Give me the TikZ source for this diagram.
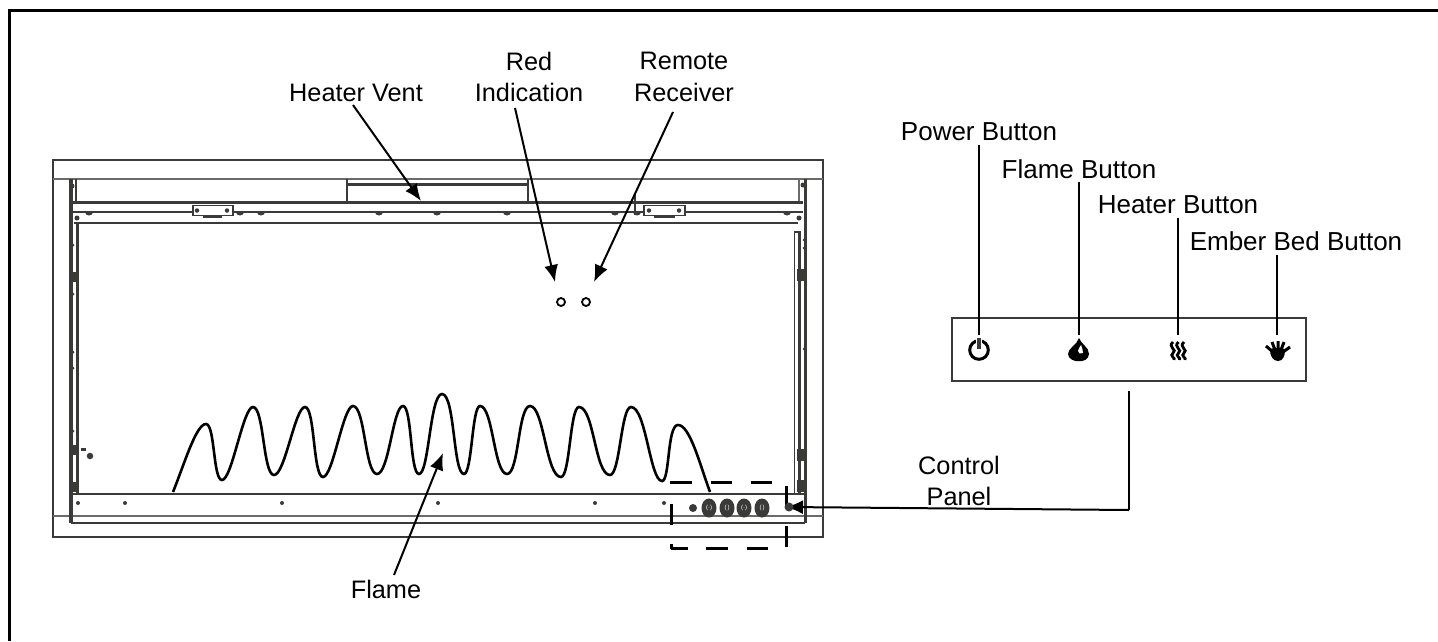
\documentclass[tikz,border=0pt]{standalone}
\usepackage{fontspec}
\setmainfont{Liberation Sans}
\usepackage{tikz}
\tikzset{>=latex}
\usetikzlibrary{positioning,arrows.meta,shapes.geometric}
\definecolor{drawgray}{HTML}{3A3A38}
\tikzset{
  lbl/.style={font=\fontsize{25.3}{31.5}\selectfont,align=center,inner sep=0pt},
  btn/.style={lbl,font=\fontsize{26}{31.5}\selectfont},
  part/.style={drawgray,line width=2.2pt},
  thin part/.style={drawgray!75,line width=1.6pt},
  heavy part/.style={drawgray,line width=3.6pt},
  callout/.style={black,line width=2pt,-{Latex[length=17pt,width=14pt]}},
  feed/.style={black,line width=2pt},
  knob/.style={fill=drawgray,draw=none,ellipse,minimum width=15pt,minimum height=19pt,inner sep=0pt},
  pin/.style={fill=drawgray,draw=none,circle,minimum size=4pt,inner sep=0pt},
  hole/.style={draw=black,circle,line width=1.8pt,minimum size=8pt,inner sep=0pt},
  cut/.style={black,line width=3pt}
}
\begin{document}
\begin{tikzpicture}[x=1pt,y=-1pt]
  \useasboundingbox (0,0) rectangle (1438,641);
  % page frame
  \draw[black,line width=3pt] (9.5,641) -- (9.5,10.5) -- (1438,10.5);
  % heater body
  \draw[part] (53,160) rectangle (823,537);
  \draw[thin part] (53,179) -- (823,179);
  \draw[thin part] (53,516) -- (823,516);
  \draw[part] (71,494) -- (805,494);
  \draw[part] (71,523) -- (805,523);
  \draw[heavy part] (71,179) -- (71,523);
  \draw[part,line width=3pt] (77,223) -- (77,494);
  \draw[part] (76,179) -- (76,202);
  \draw[thin part] (799,179) -- (799,202);
  \draw[heavy part] (805.5,179) -- (805.5,523);
  \draw[part,line width=1.8pt] (794.5,494) -- (794.5,232) -- (801,232);
  \draw[part,line width=3pt] (799,232) -- (799,494);
  \draw[part] (71,202.5) -- (803,202.5);
  \draw[part] (73,212) -- (803,212);
  \draw[part] (74,223) -- (798,223);
  % blobs on the side rails
  \foreach \by in {277,450,487}
    \fill[drawgray] (69,\by-5) rectangle (78,\by+5);
  \foreach \by in {275,455,486}
    \fill[drawgray] (797,\by-6) rectangle (805,\by+6);
  % vent
  \draw[part] (347,179) -- (347,202) (528,179) -- (528,202);
  \draw[part] (347,184.5) -- (528,184.5);
  \draw[part] (338,202) -- (347,202);
  \draw[part,line width=1.8pt] (635,194) -- (635,215);
  % hinges
  \draw[part,line width=1.8pt,fill=white] (193,205.5) rectangle (233,215.5);
  \draw[part,line width=1.8pt,fill=white] (644,205.5) rectangle (685,215.5);
  \draw[part,line width=1.4pt] (203,217) -- (222,217) (654,217) -- (675,217);
  \foreach \hx in {197,227,649,679}
    \node[pin,minimum size=4.5pt] (h\hx) at (\hx,210.5) {};
  % bumps under the rail
  \foreach \sx in {89,240,261,379,437,507,615,637,787}
    \fill[drawgray] (\sx-4,212) arc[start angle=180,end angle=360,x radius=4,y radius=-3.5] -- cycle;
  \foreach \cx/\cy in {72/186,77/218,803/185,799/218}
    \node[pin,minimum size=5pt] (c\cx) at (\cx,\cy) {};
  % side screws
  \foreach \py in {245,294,352,368,431,447}
    \node[pin,minimum size=3pt] (l\py) at (73,\py) {};
  \foreach \py in {240,248,349,490}
    \node[pin,minimum size=3pt] (m\py) at (804,\py) {};
  \node[pin,minimum size=6.5pt] (spot) at (90,456) {};
  \fill[drawgray] (81,448) rectangle (86,450.5);
  % rail pins
  \foreach \rx in {78,125,282,438,595,664}
    \node[pin] (r\rx) at (\rx,503) {};
  % indicators
  \node[hole] (red) at (561,302) {};
  \node[hole] (rec) at (586,302) {};
  % flame outline
  \draw[black,line width=2.6pt] (173,492)
    .. controls (184,465) and (196,424) .. (206,424)
    .. controls (215,424) and (213,480) .. (222,480)
    .. controls (232,480) and (243,407) .. (253,407)
    .. controls (264,407) and (263,475) .. (274,475)
    .. controls (285,475) and (295,407) .. (305,407)
    .. controls (315,407) and (313,477) .. (323,477)
    .. controls (333,477) and (343,406) .. (353,406)
    .. controls (365,406) and (365,474) .. (377,474)
    .. controls (389,474) and (393,406) .. (403,406)
    .. controls (412,406) and (410,474) .. (419,474)
    .. controls (429,474) and (430,394) .. (442,394)
    .. controls (455,394) and (453,474) .. (464,474)
    .. controls (472,474) and (472,406) .. (480,406)
    .. controls (493,406) and (494,474) .. (507,474)
    .. controls (519,474) and (518,406) .. (530,406)
    .. controls (544,406) and (546,477) .. (561,477)
    .. controls (570,477) and (570,407) .. (579,407)
    .. controls (594,407) and (595,475) .. (610,475)
    .. controls (620,475) and (621,407) .. (631,407)
    .. controls (646,407) and (650,481) .. (662,481)
    .. controls (670,481) and (667,425) .. (678,425)
    .. controls (690,425) and (700,465) .. (710,492);
  % control panel cut-out
  \foreach \xa/\xb in {671/692,711/732,751/772}
    \draw[cut] (\xa,482) -- (\xb,482);
  \foreach \xa/\xb in {671/688,706/728,747/768}
    \draw[cut] (\xa,548) -- (\xb,548);
  \foreach \ya/\yb in {481/484,504/525,544/549}
    \draw[cut] (671,\ya) -- (671,\yb);
  \foreach \ya/\yb in {486/507,526/547}
    \draw[cut] (786,\ya) -- (786,\yb);
  \node[pin,minimum size=8pt] (led) at (693,508) {};
  \foreach \kx/\kt in {709/(\textperiodcentered),727/(\,),744/(\textperiodcentered),762/(\,)}
    \node[knob,text=white,font=\fontsize{6}{6}\selectfont] (k\kx) at (\kx,508) {\kt};
  % control panel
  \node[draw=drawgray,line width=2.2pt,minimum width=354pt,minimum height=63pt,inner sep=0pt] (panel) at (1129,349.5) {};
  \coordinate (tail) at (1129,391);
  \coordinate (elbow) at (1129,510);
  \coordinate (tip) at (786,507);
  \draw[feed] (tail) -- (elbow);
  \draw[callout] (elbow) -- (tip);
  \fill[drawgray] (789,507) circle (4.5);
  % panel icons
  \draw[black,line width=3pt] (979,350) circle (9.3);
  \draw[white,line width=6pt] (979,338) -- (979,344);
  \draw[drawgray,line width=3.2pt] (979,338) -- (979,349);
  \path[fill=black] (1079,338) .. controls (1081,344) and (1089,347) .. (1089,354)
    .. controls (1089,359) and (1083,362) .. (1079,361) .. controls (1075,362) and (1068,359) .. (1068,354)
    .. controls (1068,348) and (1077,345) .. (1079,338) -- cycle;
  \path[fill=white] (1081,345) .. controls (1081,348) and (1084,350) .. (1083,353)
    .. controls (1081,355) and (1078,353) .. (1078,351) .. controls (1078,349) and (1080,347) .. (1081,345) -- cycle;
  \foreach \wx in {1173,1178.5,1184}
    \draw[black,line width=2.8pt] (\wx,342) .. controls (\wx-6,347) and (\wx+5,350) .. (\wx,353)
      .. controls (\wx-4,356) and (\wx+3,358) .. (\wx+1,360);
  \path[fill=black] (1270,350) .. controls (1271,347) and (1284,347) .. (1285,350)
    .. controls (1285,356) and (1283,361) .. (1278,361) .. controls (1273,361) and (1270,356) .. (1270,350) -- cycle;
  \draw[black,line width=3pt] (1273,352) -- (1266,346) (1275,350) -- (1272,342)
    (1278,350) -- (1278,341) (1281,350) -- (1284,342) (1283,352) -- (1290,347);
  % labels
  \node[lbl] (vent) at (356,93) {Heater Vent};
  \node[lbl] (redlbl) at (529,77) {Red\\Indication};
  \node[lbl] (reclbl) at (684,77) {Remote\\Receiver};
  \node[lbl] (flamelbl) at (386,589) {Flame};
  \node[lbl] (cplbl) at (959,481) {Control\\Panel};
  \node[btn] (btn1) at (979,132) {Power Button};
  \node[btn] (btn2) at (1079,169) {Flame Button};
  \node[btn] (btn3) at (1178,205) {Heater Button};
  \node[btn] (btn4) at (1296,241) {Ember Bed Button};
  % callouts
  \draw[callout] (353,105) -- (421,201);
  \draw[callout] (515,108) -- (555,282);
  \draw[callout] (673,112) -- (594,282);
  \draw[callout] (394,575) -- (443,453);
  \draw[feed] (979,145) -- (979,335);
  \draw[feed] (1079,182) -- (1079,335);
  \draw[feed] (1178,218) -- (1178,335);
  \draw[feed] (1277,255) -- (1277,335);
\end{tikzpicture}
\end{document}
